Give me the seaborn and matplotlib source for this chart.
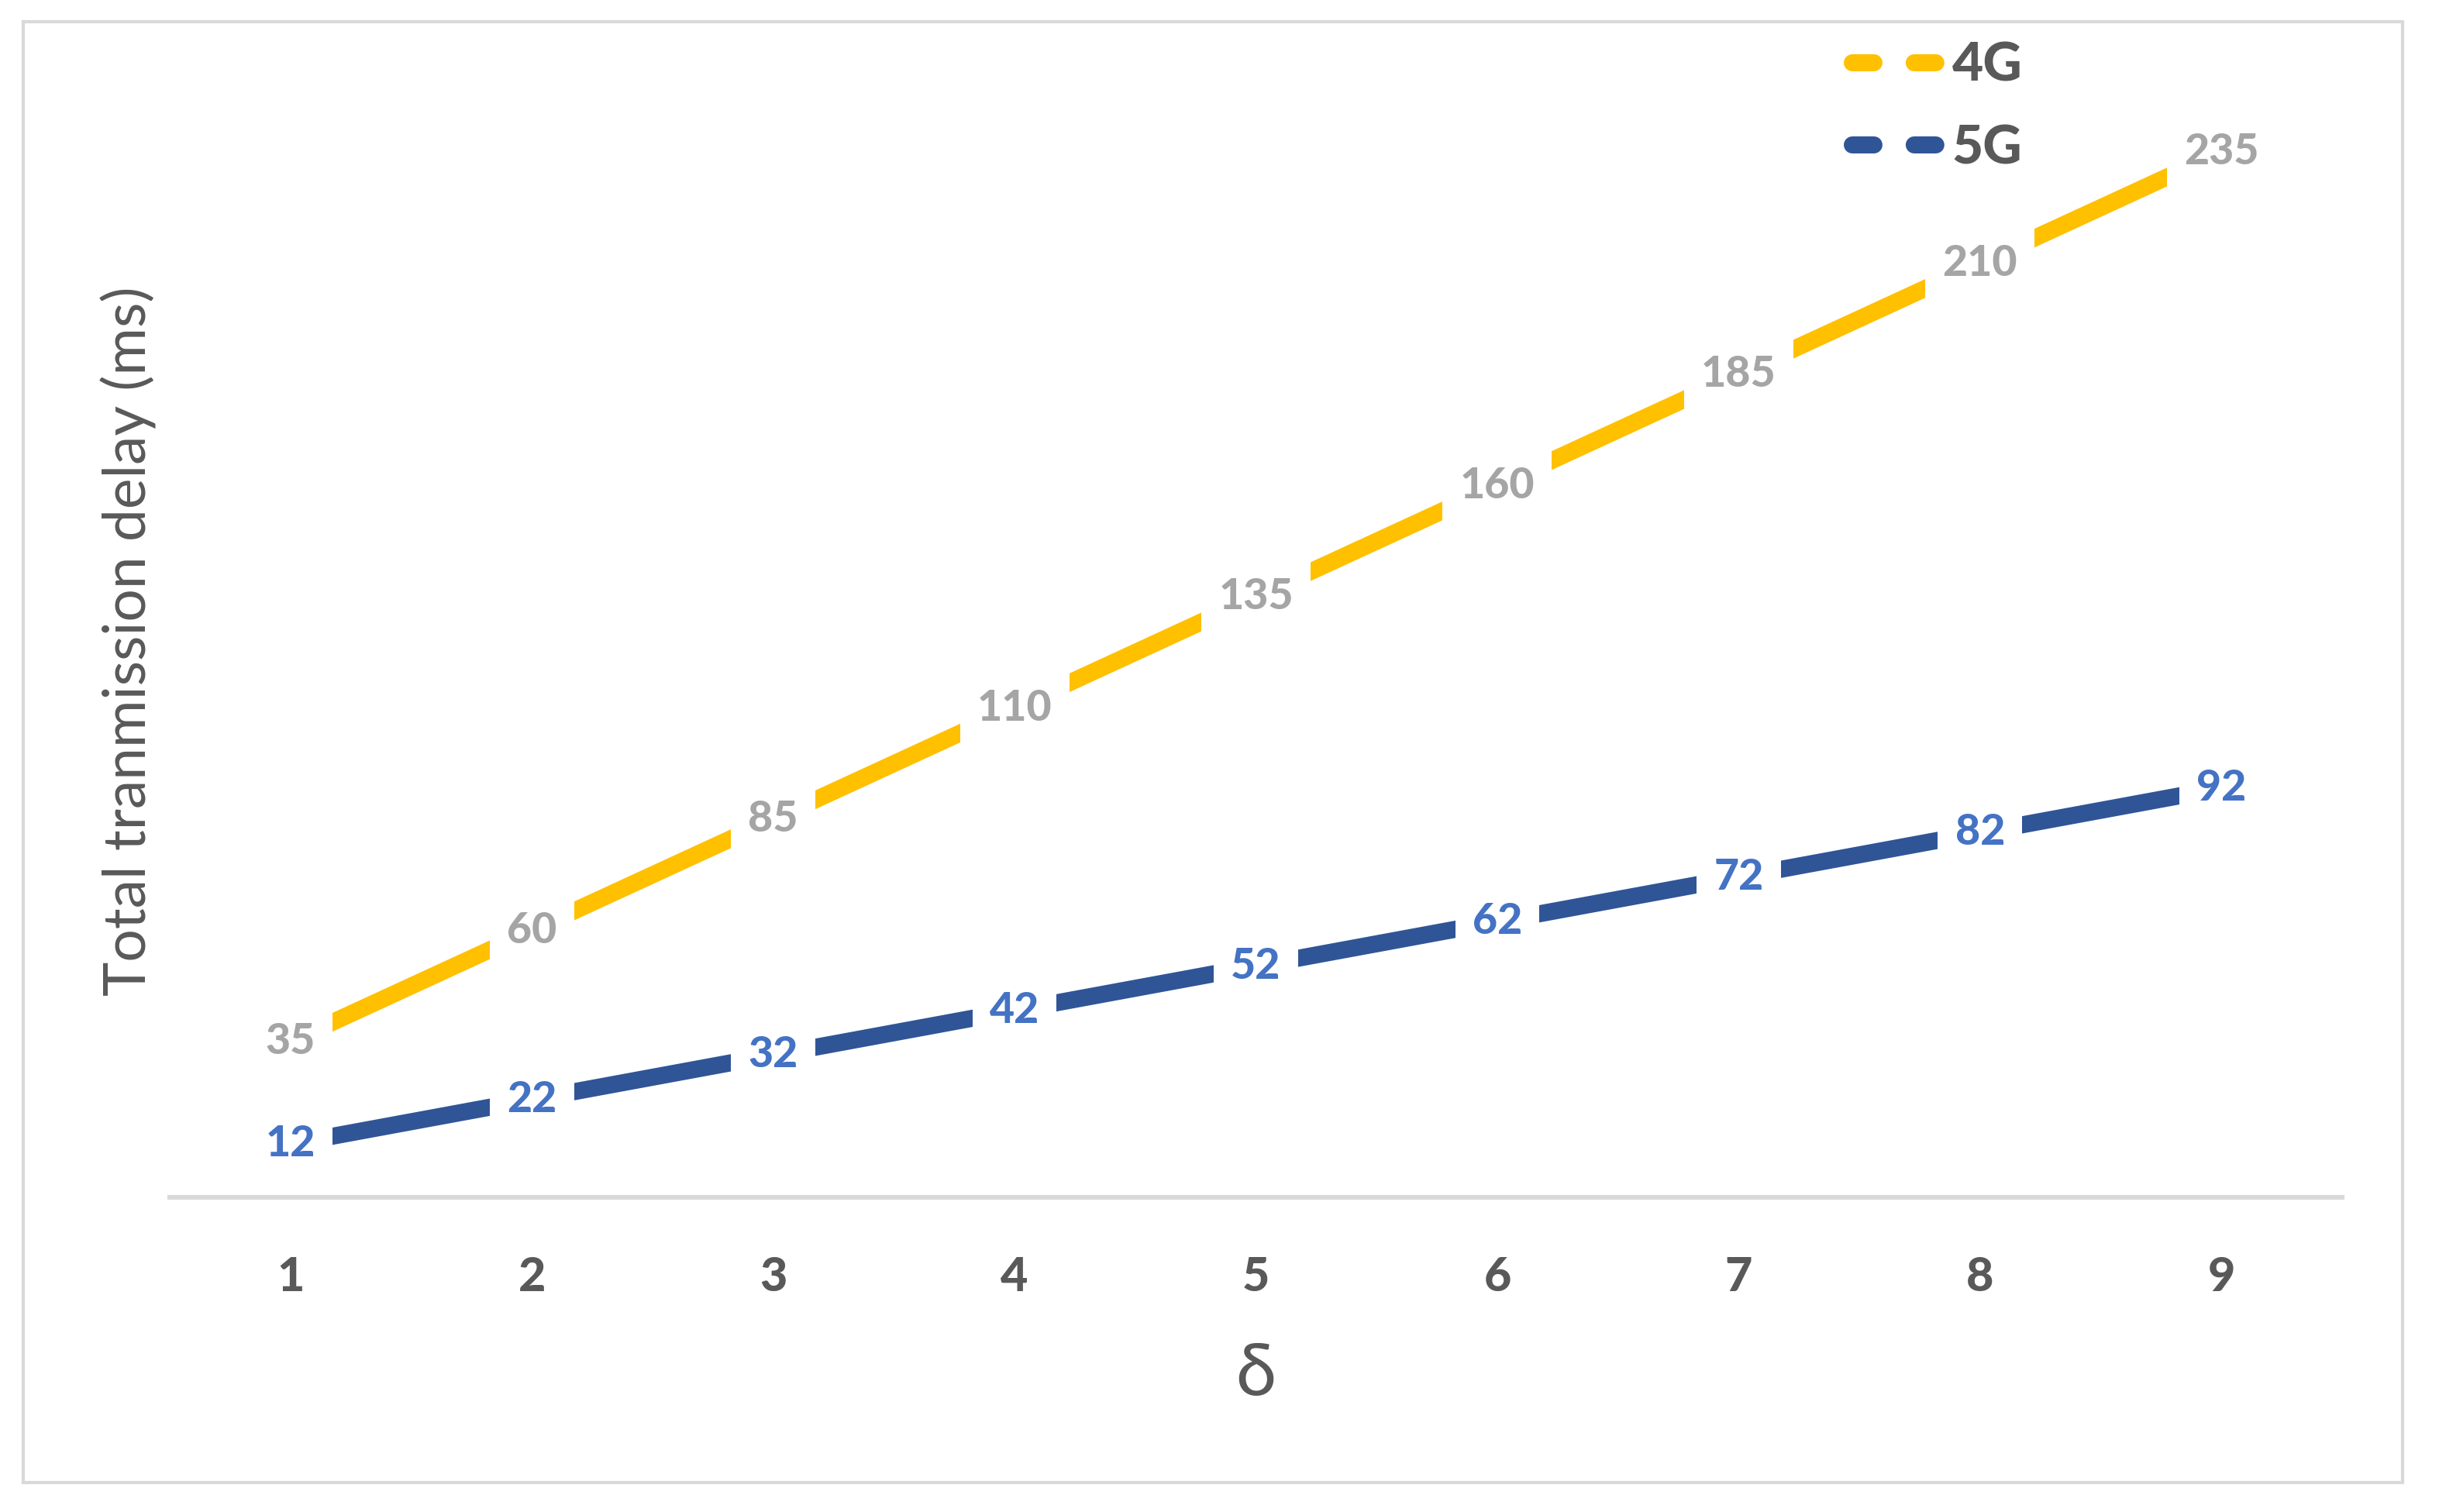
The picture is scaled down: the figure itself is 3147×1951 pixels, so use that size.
import numpy as np
import pandas as pd
import matplotlib
matplotlib.use("Agg")
import matplotlib.pyplot as plt
import seaborn as sns
from matplotlib.lines import Line2D
from matplotlib.patches import Rectangle

# ---- data ----
delta = [1, 2, 3, 4, 5, 6, 7, 8, 9]
delay_4g = [35, 60, 85, 110, 135, 160, 185, 210, 235]
delay_5g = [12, 22, 32, 42, 52, 62, 72, 82, 92]
series_names = ["4G", "5G"]
line_colors = ["#FFC000", "#2F5597"]
label_colors = ["#A5A5A5", "#4472C4"]

df = pd.DataFrame({
    "delta": delta * 2,
    "delay": delay_4g + delay_5g,
    "series": ["4G"] * len(delta) + ["5G"] * len(delta),
})

sns.set_theme(style="white")
plt.rcParams["font.family"] = ["Lato", "DejaVu Sans"]

DPI = 200
W, H = 3147, 1951
fig = plt.figure(figsize=(W / DPI, H / DPI), dpi=DPI)
ax = fig.add_axes([219 / W, 1 - 1545 / H, (3022 - 219) / W, (1545 - 110) / H])

lw = 22 * 72 / DPI
sns.lineplot(data=df, x="delta", y="delay", hue="series", palette=dict(zip(series_names, line_colors)),
             linewidth=lw, ax=ax, legend=False, solid_capstyle="butt")

for name, vals, lc in zip(series_names, [delay_4g, delay_5g], label_colors):
    for x, v in zip(delta, vals):
        ax.text(x, v, str(v), ha="center", va="center", fontsize=20, fontweight="black",
                color=lc, zorder=5,
                bbox=dict(facecolor="white", edgecolor="none", boxstyle="square,pad=0.4"))

ax.set_xlim(0.5, 9.5)
ax.set_ylim(0, 250)
ax.set_xticks(delta)
ax.set_xticklabels([str(d) for d in delta], fontsize=22, fontweight="black", color="#595959")
ax.set_yticks([])
ax.tick_params(axis="x", length=0, pad=27)
for s in ["top", "left", "right"]:
    ax.spines[s].set_visible(False)
ax.spines["bottom"].set_color("#D9D9D9")
ax.spines["bottom"].set_linewidth(2.2)
ax.set_xlabel("δ", fontsize=34, color="#595959", labelpad=20)
ax.set_ylabel("Total tranmission delay (ms)", fontsize=27, color="#595959", labelpad=6)

handles = [Line2D([0], [0], color=c, linewidth=lw, dashes=(1.27, 2.36),
                  dash_capstyle="round") for c in line_colors]
leg = fig.legend(handles, series_names, loc="upper left",
                 bbox_to_anchor=(2390 / W, 1 - 54 / H), frameon=False,
                 prop=dict(family="Lato", weight="black", size=25),
                 labelcolor="#595959", handlelength=1.7, handletextpad=0.15,
                 labelspacing=0.62, borderpad=0, borderaxespad=0)

fig.patches.append(Rectangle((30 / W, 1 - 1913 / H), (3100 - 30) / W, (1913 - 28) / H,
                             transform=fig.transFigure, fill=False, edgecolor="#D9D9D9",
                             linewidth=1.5))

fig.savefig("out.png", dpi=DPI, facecolor="white")
